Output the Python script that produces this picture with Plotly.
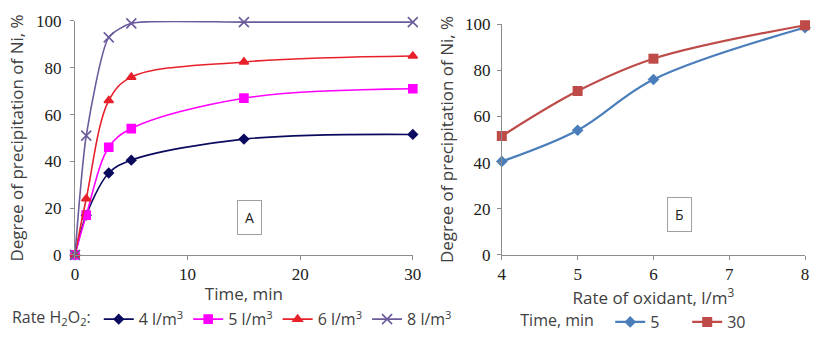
import plotly.graph_objects as go

# Panel A data
time_min = [0, 1, 3, 5, 15, 30]
ni_4 = [0, 17, 35, 40.5, 49.5, 51.5]
ni_5 = [0, 17, 46, 54, 67, 71]
ni_6 = [0, 24, 66, 76, 82.5, 85]
ni_8 = [0, 51, 93, 99, 99.5, 99.5]

# Panel B data
oxidant_rate = [4, 5, 6, 8]
ni_t5 = [40.5, 54, 76, 98.5]
ni_t30 = [51.5, 71, 85, 99.5]

serif = "Liberation Serif, Times New Roman, serif"
sans = "Open Sans, sans-serif"
txt = "#404040"

fig = go.Figure()

left_series = [
    ("4 l/m<sup>3</sup>", ni_4, "#0a0a5e", "diamond", 7, 1.0),
    ("5 l/m<sup>3</sup>", ni_5, "#ff00ff", "square", 8, 1.0),
    ("6 l/m<sup>3</sup>", ni_6, "#e8202a", "triangle-up", 8, 1.0),
    ("8 l/m<sup>3</sup>", ni_8, "#6b5b9c", "x-thin-open", 10, 0.6),
]
for name, ys, col, sym, sz, sm in left_series:
    fig.add_trace(go.Scatter(
        x=time_min, y=ys, name=name, mode="lines+markers",
        line=dict(color=col, width=1.6, shape="spline", smoothing=sm),
        marker=dict(color=col, symbol=sym, size=sz, line=dict(color=col, width=1.6)),
        xaxis="x", yaxis="y", legend="legend", cliponaxis=False,
    ))

fig.add_trace(go.Scatter(
    x=oxidant_rate, y=ni_t5, name="5", mode="lines+markers",
    line=dict(color="#4a7ebb", width=2.2, shape="spline", smoothing=1.0),
    marker=dict(color="#4a7ebb", symbol="diamond", size=9),
    xaxis="x2", yaxis="y2", legend="legend2", cliponaxis=False,
))
fig.add_trace(go.Scatter(
    x=oxidant_rate, y=ni_t30, name="30", mode="lines+markers",
    line=dict(color="#be4b48", width=2.2, shape="spline", smoothing=1.0),
    marker=dict(color="#be4b48", symbol="square", size=10),
    xaxis="x2", yaxis="y2", legend="legend2", cliponaxis=False,
))

axis_common = dict(
    showgrid=False, zeroline=False, showline=True, linecolor="#8c8c8c", linewidth=1,
    ticks="outside", tickcolor="#8c8c8c", ticklen=4, automargin=False,
    tickfont=dict(family=serif, size=17, color="#202020"),
)
title_font = dict(family=sans, size=17, color=txt)
legend_font = dict(family=sans, size=16, color=txt)

fig.update_layout(
    width=824, height=344,
    margin=dict(l=0, r=0, t=0, b=0),
    paper_bgcolor="white", plot_bgcolor="white",
    showlegend=True,
    xaxis=dict(domain=[0.091, 0.501], range=[0, 30], dtick=10, anchor="y",
               title=dict(text="Time, min", font=title_font, standoff=4),
               **axis_common),
    yaxis=dict(domain=[0.259, 0.939], range=[0, 100], dtick=20, anchor="x",
               ticklabelstandoff=5,
               title=dict(text="Degree of precipitation of Ni, %", font=title_font, standoff=8),
               **axis_common),
    xaxis2=dict(domain=[0.609, 0.977], range=[4, 8], dtick=1, anchor="y2",
                title=dict(text="Rate of oxidant, l/m<sup>3</sup>", font=title_font, standoff=0),
                **axis_common),
    yaxis2=dict(domain=[0.259, 0.930], range=[0, 100], dtick=20, anchor="x2",
                ticklabelstandoff=3,
                title=dict(text="Degree of precipitation of Ni, %", font=title_font, standoff=6),
                **axis_common),
    legend=dict(
        orientation="h", x=0.012, y=0.072, xanchor="left", yanchor="middle",
        title=dict(text="Rate H<sub>2</sub>O<sub>2</sub>:", side="left", font=legend_font),
        font=legend_font, itemwidth=30, tracegroupgap=0,
        bgcolor="rgba(0,0,0,0)",
    ),
    legend2=dict(
        orientation="h", x=0.629, y=0.064, xanchor="left", yanchor="middle",
        title=dict(text="Time, min  ", side="left", font=legend_font),
        font=legend_font, itemwidth=30, entrywidth=32, entrywidthmode="pixels",
        bgcolor="rgba(0,0,0,0)",
    ),
    annotations=[
        dict(text="A", x=15.5, y=15.8, xref="x", yref="y", showarrow=False,
             font=dict(family=sans, size=14, color="#202020"),
             bordercolor="#a0a0a0", borderwidth=1, borderpad=7, bgcolor="white"),
        dict(text="Б", x=6.35, y=17.7, xref="x2", yref="y2", showarrow=False,
             font=dict(family=sans, size=14, color="#202020"),
             bordercolor="#a0a0a0", borderwidth=1, borderpad=7, bgcolor="white"),
    ],
)

fig.write_html("out.html", config={"displayModeBar": False},
               post_script="document.body.style.margin='0';")
